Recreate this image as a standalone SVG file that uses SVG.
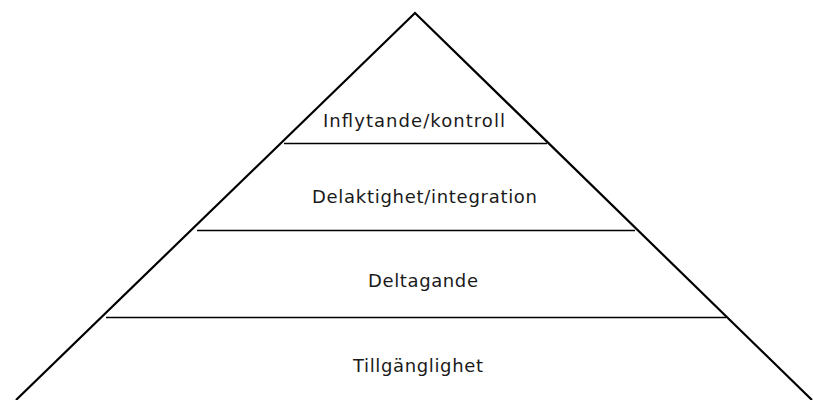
<svg xmlns="http://www.w3.org/2000/svg" width="813" height="400" viewBox="0 0 813 400">
<style>
.side{fill:none;stroke:#000;stroke-width:2.2;stroke-linejoin:miter}
.div{stroke:#000;stroke-width:1.5}
.lbl{font-family:"DejaVu Sans","Verdana",sans-serif;font-size:18px;fill:#1a1a1a}
</style>
<rect width="813" height="400" fill="#fff"/>
<g id="connectors">
<polyline class="side" points="16,400 415,13 812,400"/>
<line class="div" x1="284" y1="143.5" x2="547" y2="143.5"/>
<line class="div" x1="197" y1="230.5" x2="635" y2="230.5"/>
<line class="div" x1="106" y1="317.5" x2="726" y2="317.5"/>
</g>
<g id="level-inflytande"><text class="lbl" x="323" y="127" textLength="182" lengthAdjust="spacing">Inflytande/kontroll</text></g>
<g id="level-delaktighet"><text class="lbl" x="312" y="203" textLength="225" lengthAdjust="spacing">Delaktighet/integration</text></g>
<g id="level-deltagande"><text class="lbl" x="368" y="287" textLength="110" lengthAdjust="spacing">Deltagande</text></g>
<g id="level-tillganglighet"><text class="lbl" x="353" y="372" textLength="130" lengthAdjust="spacing">Tillgänglighet</text></g>
</svg>
